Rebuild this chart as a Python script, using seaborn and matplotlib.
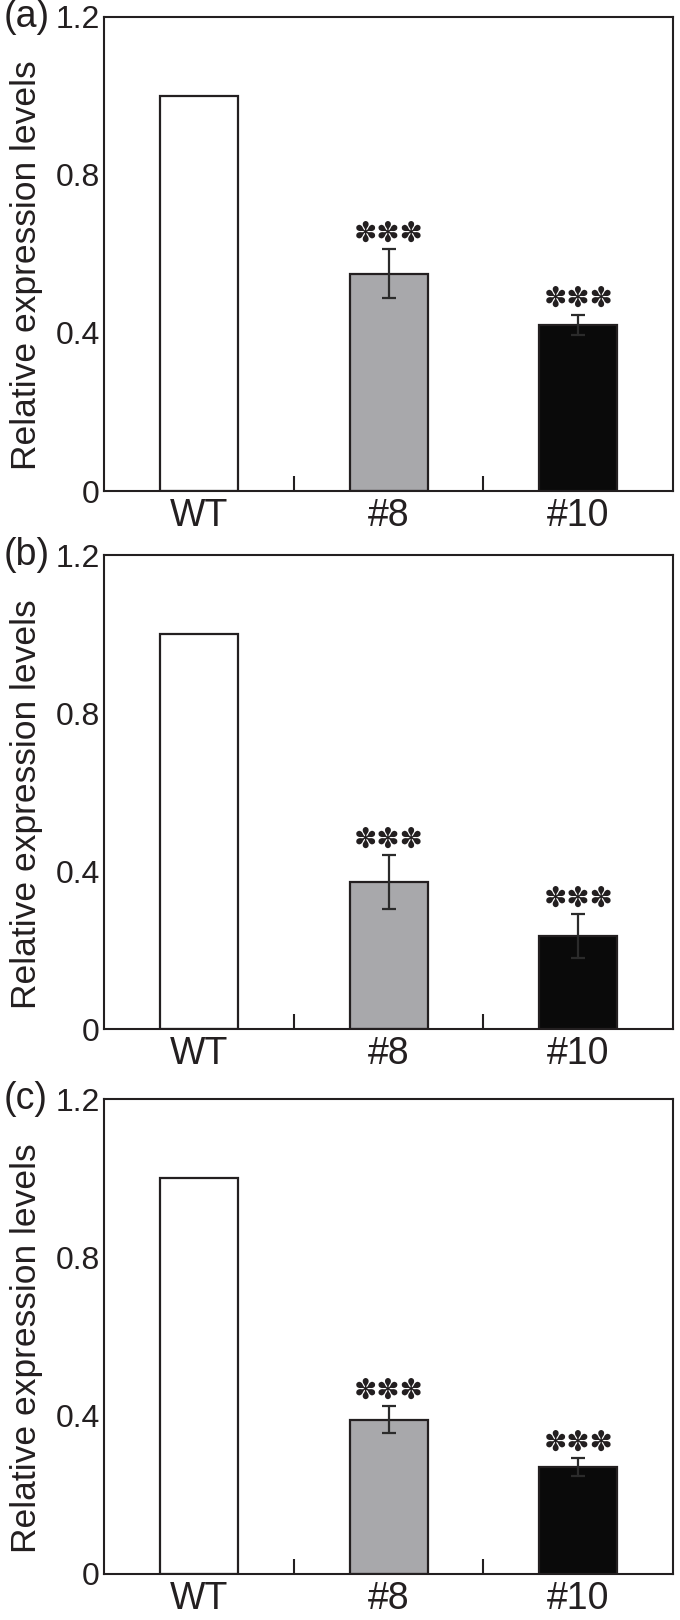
"""Relative expression levels of WT and two lines (#8, #10), three panels."""

import matplotlib

matplotlib.use("Agg")
import matplotlib.pyplot as plt
import pandas as pd
import seaborn as sns

GROUPS = ["WT", "#8", "#10"]
PANELS = ["(a)", "(b)", "(c)"]

MEAN_A = [1.0, 0.55, 0.42]
ERR_A = [0.0, 0.062, 0.026]
MEAN_B = [1.0, 0.372, 0.235]
ERR_B = [0.0, 0.068, 0.055]
MEAN_C = [1.0, 0.39, 0.27]
ERR_C = [0.0, 0.034, 0.023]

SIG = ["", "***", "***"]
Y_TICKS = [0, 0.4, 0.8, 1.2]
Y_TICK_LABELS = ["0", "0.4", "0.8", "1.2"]

INK = "#231f20"
BAR_COLORS = {"WT": "#ffffff", "#8": "#a7a8ab", "#10": "#0a0a0a"}

FONT = ["Liberation Sans", "DejaVu Sans"]


def draw_panel(ax, label, means, errs):
    df = pd.DataFrame({"group": GROUPS, "value": means})
    sns.barplot(
        data=df,
        x="group",
        y="value",
        hue="group",
        palette=BAR_COLORS,
        order=GROUPS,
        width=0.41,
        edgecolor=INK,
        linewidth=1.6,
        errorbar=None,
        legend=False,
        ax=ax,
    )
    for i, (m, e, s) in enumerate(zip(means, errs, SIG)):
        if e > 0:
            ax.errorbar(i, m, yerr=e, fmt="none", ecolor="#2b2b2b",
                        elinewidth=1.6, capsize=5, capthick=1.6, zorder=5)
        if s:
            # decorative significance asterisks
            ax.annotate("✽✽✽", xy=(i, m + e), xytext=(0, 1), textcoords="offset points",
                        ha="center", va="bottom", fontsize=20, color=INK,
                        family=["DejaVu Sans"])

    ax.set_xlim(-0.5, 2.5)
    ax.set_ylim(0, 1.2)
    ax.set_yticks(Y_TICKS)
    ax.set_yticklabels(Y_TICK_LABELS)
    ax.set_xticks(range(len(GROUPS)))
    ax.set_xticklabels(GROUPS)
    ax.set_xticks([0.5, 1.5], minor=True)
    ax.tick_params(axis="x", which="major", length=0, pad=5, labelsize=27, colors=INK)
    ax.tick_params(axis="x", which="minor", direction="in", length=11, width=1.5,
                   color=INK, bottom=True)
    ax.tick_params(axis="y", which="major", direction="in", length=4, width=1.5,
                   pad=3, labelsize=23, colors=INK)
    ax.tick_params(axis="y", which="minor", left=False)
    for spine in ax.spines.values():
        spine.set_visible(True)
        spine.set_color(INK)
        spine.set_linewidth(1.5)
    ax.set_xlabel("")
    ax.set_ylabel("Relative expression levels", fontsize=25.5, color=INK)
    ax.yaxis.set_label_coords(-0.108, 0.475)
    ax.text(-0.176, 1.0, label, transform=ax.transAxes, ha="left", va="center",
            fontsize=27, color=INK)
    ax.grid(False)


def main():
    sns.set_theme(style="white")
    plt.rcParams["font.family"] = FONT

    fig = plt.figure(figsize=(6.8, 16.2), dpi=100)
    boxes = [
        [0.153, 0.6969, 0.837, 0.2929],
        [0.153, 0.3648, 0.837, 0.2926],
        [0.153, 0.0284, 0.837, 0.2930],
    ]
    data = [(MEAN_A, ERR_A), (MEAN_B, ERR_B), (MEAN_C, ERR_C)]
    for box, label, (means, errs) in zip(boxes, PANELS, data):
        ax = fig.add_axes(box)
        draw_panel(ax, label, means, errs)

    fig.savefig("out.png", dpi=100, facecolor="white")


if __name__ == "__main__":
    main()
